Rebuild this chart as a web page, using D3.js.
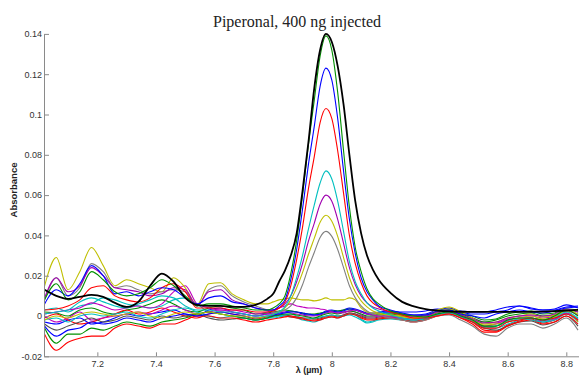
<!DOCTYPE html>
<html>
<head>
<meta charset="utf-8">
<script src="https://cdn.jsdelivr.net/npm/d3@7"></script>
<style>
  body { margin: 0; background: #fff; }
  svg { display: block; }
</style>
</head>
<body>
<svg id="chart" width="579" height="376"></svg>
<script>
// wavelength grid (µm) shared by every spectrum; finer around the 7.98 µm band
const wavelengths = [
  7.02, 7.06, 7.10, 7.14, 7.18, 7.22, 7.26, 7.30, 7.34, 7.38, 7.42, 7.46, 7.50, 7.54, 7.58, 7.62, 7.66, 7.70, 7.74, 7.78,
  7.80, 7.82, 7.84, 7.86, 7.88, 7.90, 7.92, 7.94, 7.96, 7.98, 8.00, 8.02, 8.04, 8.06, 8.08, 8.10, 8.12, 8.14, 8.16,
  8.20, 8.24, 8.28, 8.32, 8.36, 8.40, 8.44, 8.48, 8.52, 8.56, 8.60, 8.64, 8.68, 8.72, 8.76, 8.80, 8.84
];

// absorbance values, in mAU (x 0.001)
const absBlack = [
  13, 10, 8.5, 9.5, 10.5, 9.5, 6.5, 4.5, 7, 15, 21, 17, 9, 5.5, 5, 5, 4.5, 4.5, 5.5, 8.5,
  11, 17, 22.5, 30, 41, 62, 86, 113, 132, 140, 136, 124, 105, 80, 57, 41, 30, 23, 18,
  11.5, 7, 4.8, 3.4, 2.7, 2.3, 2.1, 2, 2, 2, 2, 2, 2.1, 2.2, 2.4, 2.7, 3
];
const absGreen = [
  8, 16, 8, 12, 22, 18, 12, 10, 11, 14, 18, 15, 10, 5, 6, 6, 5, 4, 3, 3,
  4, 6, 10, 21, 37.5, 60, 85, 107, 129, 139, 132, 111, 82, 54, 34, 22, 13.5, 8.6, 6,
  2.5, 1, 0, -0.5, 1, 2, 0, -2, -5, -5, -2, -1, -1, -2, 0, 3, 0
];
const absBlue = [
  6, 13, 10, 16, 25, 20, 11, 12, 10, 12, 14, 13, 9, 6, 9, 10, 7, 6, 4, 3,
  3, 5, 8, 18, 33, 53, 75, 94, 114, 123, 117, 98, 72, 48, 31, 19, 12, 8, 5,
  3, 1.5, 0.5, 0.5, 2.5, 3, 1, 0, -1, 1, 2, 3, 2, 1.5, 2.5, 4, 4.5
];
const absRed = [
  3, 3.5, 5, 8, 14, 15, 10, 8, 7, 9, 14, 16, 12, 4, 4, 4, 3, 3, 2, 2,
  2.5, 4, 7, 15, 28, 44, 63, 79, 96, 103, 98, 82, 61, 40, 26, 16.5, 10, 6.5, 4.5,
  2, 0.5, -1, -1, 0, 1, -1, -3, -6, -6, -3, -2, -1, -2, -1, 1, -2
];
const absCyan = [
  1, 2, 3, 7, 9, 7, 5, 4, 6, 8, 10, 9, 5, 3, 3, 2, 2, 1, 0, 0,
  1, 2, 4.5, 10, 19, 30, 43, 55, 66, 72, 68, 57, 42, 27, 17, 11, 6.5, 4, 2.5,
  0.5, -1, -2, -1, 1, 1.5, -0.5, -3, -6, -5, -3, -1.5, -2, -3, -1, 2, -1
];
const absMagenta = [
  9, 19, 12, 15, 24, 20, 14, 13, 12, 10, 11, 14, 13, 5, 12, 13, 8, 6, 4, 3,
  3, 4, 6, 10, 17, 26, 37, 46, 55.5, 60, 57, 48, 36, 24, 15.5, 10, 6.5, 4.5, 3.5,
  2, 1, 0, 0, 2, 2.5, 0.5, -1.5, -3.5, -3, -1, 0, 0.5, 0, 1, 3.5, 2
];
const absYellow = [
  -2, 0, -1, 1, 2, 1, 0, 1, 2, 0, -1, 1, 2, 1, 2, 1, 0, 0, -1, 0,
  1, 2, 4, 8, 14, 21.5, 30.5, 38.5, 46.5, 50, 47, 39.5, 29, 19, 12, 7.5, 4.5, 2.5, 1.5,
  0.5, -0.5, -1, -0.5, 2, 3.5, 1, -2, -4.5, -4, -3, -1, 0, -1.5, -0.5, 2.5, -3
];
const absGray = [
  8, 19, 10, 14, 26, 22, 14, 15, 13, 11, 12, 13, 12, 5, 13, 15, 10, 7, 5, 3,
  2, 2, 3, 5, 9, 15.5, 24, 31.5, 39, 42, 39.5, 33, 24, 15, 9, 5, 2.5, 1, 0.5,
  -1, -2, -3, -2, 0, 0.5, -2, -5, -9, -10, -6, -4, -4, -6, -4, -1, -7
];
// spectra without the band
const absYellowFlat = [
  15, 29, 13, 22, 34, 25, 15, 18, 16, 14, 12, 19, 14, 5.5, 16, 16.5, 11, 8, 6, 6,
  7, 8, 8.5, 9, 8.5, 8, 8, 7.5, 8, 9, 8, 8, 8, 9, 8, 4, 2, 1.5, 1,
  0.5, 0, -1, 0, 3, 4.5, 2, -1, -4, -3, -1, 0, 1, -0.5, 0.5, 3, 1
];
const absMagentaFlat = [
  1, 2, 3, 4, 6.5, 5, 3, 4, 5, 4, 6, 12, 15, 6, 4, 3, 3, 2, 1, 2,
  3, 4, 5, 6, 5, 4.5, 4, 4, 3.5, 3, 2, 1.5, 2, 2.5, 3, 2, 1, 0.5, 0,
  -0.5, -1, -1.5, -1, 1, 2, 0, -2, -5, -4, -2, -1, -1, -2.5, -1.5, 1.5, -2
];
const absBlue2 = [
  -5, -10, -7, -6, -3, -4, -3, -1, -2, -3, -1, 0, 1, 0, 1, 2, 1, 0, -1, 0,
  0.5, 1, 1.5, 2, 2, 1.5, 1, 0.5, 1, 2, 2.5, 2, 2.5, 3.5, 3, 2, 1, 1, 1.5,
  2, 1, 0.5, 1, 3, 4, 2, 1, 1, 2, 3, 5, 4, 3, 3, 4.5, 5
];
const absGreen2 = [
  -6, -13.5, -9, -9, -6, -7, -5, -3, -4, -5, -3, -2, -1, 1, 2, 1, 0, -1, -2, -1,
  0, 0.5, 1, 1, 0.5, 0, -0.5, -1, 0, 1, 1.5, 1, 2, 2.5, 2, 1, 0, 0, 0.5,
  1, 0, -1, 0, 2, 3, 1, -1, -3, -2, 0, 1, 1.5, 0, 0.5, 3, 2
];
const absRed2 = [
  -9, -17, -13, -11, -10, -10, -6, -4, -5, -6, -4, -4, -2, 0, 0, -1, -1, -2, -3, -2,
  -1.5, -1, -0.5, 0, -0.5, -1, -2, -2.5, -2, -1, -0.5, -1, 0, 1, 0.5, -1, -2, -2, -1.5,
  -1, -2, -3, -2, 0, 1, -1, -4, -8, -8, -5, -3, -2, -4, -3, 0, -4
];
const absCyan2 = [
  -2, -1, -3, 0, 1, 0, 1, 2, 0, -1, 1, 3, 4, 2, 0, -1, 0, -1, -2, -1,
  -0.5, 0, 0.5, 1, 0, -1, -1.5, -1, -0.5, 0, 0.5, 0, 0, 1, 0.5, -1.5, -3, -2.5, -1.5,
  -1, -1.5, -2, -1.5, 0.5, 2, 0, -2, -5, -6, -4, -2, -1, -3, -2, 1, -3
];
const absDarkGray = [
  -4, -7, -5, -3, -1, -3, -2, 0, -1, -2, 0, -1, 0, 1, -1, -2, -1.5, -1, -2, -1,
  0, 0.5, 0.5, 0, -0.5, -1, -1, -1.5, -1, 0, 0.5, 0, 0.5, 1.5, 1, 0, -1, -1, -0.5,
  0, -1, -1.5, -0.5, 1.5, 2.5, 0.5, -2, -6, -7, -5, -3, -2.5, -4.5, -3, 0, -5
];
const absMagenta3 = [
  0, -3, -1, 2, -2, -1, 0, 1, 2, 1, 3, 5, 3, 1, 2, 3, 2, 1, 0, 1,
  1.5, 2, 2, 1.5, 1, 0.5, 0, 0, 0.5, 1.5, 2, 1.5, 1.5, 2.5, 2, 0.5, -0.5, -0.5, 0,
  0.5, 0, -0.5, 0, 2, 2.5, 1, -1, -3, -3.5, -1.5, 0, 0, -1, 0, 2.5, 0.5
];
const absRed3 = [
  -1, 1, -2, -4, -3, -1, 1, 3, 1, 2, 4, 2, 0, -1, 1, 2, 1, 0, -1.5, -0.5,
  0, 0.5, 0, -0.5, -1, -1.5, -2, -2, -1.5, -0.5, 0, -0.5, 0.5, 1.5, 1, -0.5, -1.5, -1.5, -1,
  -0.5, -1.5, -2.5, -1.5, 0.5, 1.5, -0.5, -3, -7, -7.5, -4.5, -2.5, -1.5, -3.5, -2, 1, -2.5
];
const absGreen3 = [
  2, 1.5, 0, 3, 4, 2, 1, 3, 4, 6, 8, 6, 3, 2, 4, 5, 4, 3, 1, 1.5,
  2, 2.5, 3, 2.5, 2, 1.5, 1, 1, 1.5, 2, 2.5, 2.5, 3, 3.5, 3, 2, 1, 0.5, 1,
  1.5, 0.5, 0, 0.5, 2.5, 3.5, 1.5, 0, -2, -1.5, 1, 2, 2.5, 1, 1.5, 3.5, 3
];
const absBlue3 = [
  -3, -4, -2, -1, -4, -3, -1, 1, 0, 1, 2, 3, 1, 0, 3, 4, 2, 1, 0, 1,
  1, 1.5, 2, 2.5, 2, 1, 0.5, 0.5, 1, 2.5, 3, 2.5, 3, 4, 3.5, 2.5, 1.5, 1.5, 2,
  2.5, 2, 2, 2.5, 3.5, 3, 2.5, 2, 2, 3, 4.5, 5, 3.5, 3, 3.5, 5.5, 4
];
const absCyan3 = [
  3, 4, 2, 5, 6, 9, 8, 6, 5, 4, 5, 8, 9, 6, 2, 1, 0, -1, -2, -1,
  -1, -0.5, 0, -0.5, -1, -2, -2.5, -3, -2, -1, -0.5, -1, 0, 0.5, -0.5, -2, -3.5, -3, -2,
  -1.5, -2, -2.5, -1, 1, 1.5, -0.5, -2.5, -5.5, -5, -2.5, -1, -1, -2, -1, 1.5, -1.5
];

const xTicks = [7.2, 7.4, 7.6, 7.8, 8, 8.2, 8.4, 8.6, 8.8];
const xTickLabels = ['7.2', '7.4', '7.6', '7.8', '8', '8.2', '8.4', '8.6', '8.8'];
const yTicks = [-0.02, 0, 0.02, 0.04, 0.06, 0.08, 0.1, 0.12, 0.14];
const yTickLabels = ['-0.02', '0', '0.02', '0.04', '0.06', '0.08', '0.1', '0.12', '0.14'];

// drawing order: flat spectra underneath, the peak ones on top, black last
const series = [
  { values: absCyan3, color: '#00bfbf' },
  { values: absBlue3, color: '#0000ff' },
  { values: absGreen3, color: '#009000' },
  { values: absRed3, color: '#ff0000' },
  { values: absMagenta3, color: '#bf00bf' },
  { values: absDarkGray, color: '#505050' },
  { values: absCyan2, color: '#00bfbf' },
  { values: absRed2, color: '#ff0000' },
  { values: absGreen2, color: '#009000' },
  { values: absBlue2, color: '#0000ff' },
  { values: absMagentaFlat, color: '#bf00bf' },
  { values: absYellowFlat, color: '#bfbf00' },
  { values: absGray, color: '#808080' },
  { values: absYellow, color: '#bfbf00' },
  { values: absMagenta, color: '#a000b0' },
  { values: absCyan, color: '#00bfbf' },
  { values: absRed, color: '#ff0000' },
  { values: absBlue, color: '#0000ff' },
  { values: absGreen, color: '#009000' },
  { values: absBlack, color: '#000000', width: 1.8 }
];

const svg = d3.select('#chart');

const x = d3.scaleLinear().domain([7.018, 8.844]).range([44, 579.2]);
const y = d3.scaleLinear().domain([-0.02, 0.14]).range([356.3, 33.9]);

// Title
svg.append('text')
  .attr('x', 297)
  .attr('y', 27)
  .attr('text-anchor', 'middle')
  .style('font-family', '"Liberation Serif", "Times New Roman", serif')
  .style('font-size', '16px')
  .attr('fill', '#222')
  .text('Piperonal, 400 ng injected');

// Spectra
const line = d3.line()
  .x((d, i) => x(wavelengths[i]))
  .y(d => y(d / 1000))
  .curve(d3.curveMonotoneX);

svg.append('g')
  .selectAll('path')
  .data(series)
  .enter()
  .append('path')
    .attr('d', s => line(s.values))
    .attr('fill', 'none')
    .attr('stroke', s => s.color)
    .attr('stroke-width', s => s.width || 1.1)
    .attr('stroke-linejoin', 'round');

// Axes, ticks pointing inward
const xAxis = svg.append('g')
  .attr('transform', `translate(0,${y(-0.02)})`)
  .call(d3.axisBottom(x)
    .tickValues(xTicks)
    .tickFormat((d, i) => xTickLabels[i])
    .tickSizeInner(-4)
    .tickSizeOuter(0)
    .tickPadding(4));

const yAxis = svg.append('g')
  .attr('transform', `translate(${x(7.018)},0)`)
  .call(d3.axisLeft(y)
    .tickValues(yTicks)
    .tickFormat((d, i) => yTickLabels[i])
    .tickSizeInner(-5)
    .tickSizeOuter(0)
    .tickPadding(2));

[xAxis, yAxis].forEach(g => {
  g.select('.domain').attr('stroke', '#8a8a8a');
  g.selectAll('.tick line').attr('stroke', '#8a8a8a');
  g.selectAll('.tick text')
    .attr('fill', '#333')
    .style('font-family', '"Liberation Sans", Arial, sans-serif')
    .style('font-size', '9px');
});

// Axis labels
svg.append('text')
  .attr('transform', 'translate(17,190) rotate(-90)')
  .attr('text-anchor', 'middle')
  .style('font-family', '"Liberation Sans", Arial, sans-serif')
  .style('font-size', '9.5px')
  .style('font-weight', 'bold')
  .attr('fill', '#222')
  .text('Absorbance');

svg.append('text')
  .attr('x', 309)
  .attr('y', 373)
  .attr('text-anchor', 'middle')
  .style('font-family', '"Liberation Sans", Arial, sans-serif')
  .style('font-size', '9px')
  .style('font-weight', 'bold')
  .attr('fill', '#222')
  .text('λ (µm)');
</script>
</body>
</html>
